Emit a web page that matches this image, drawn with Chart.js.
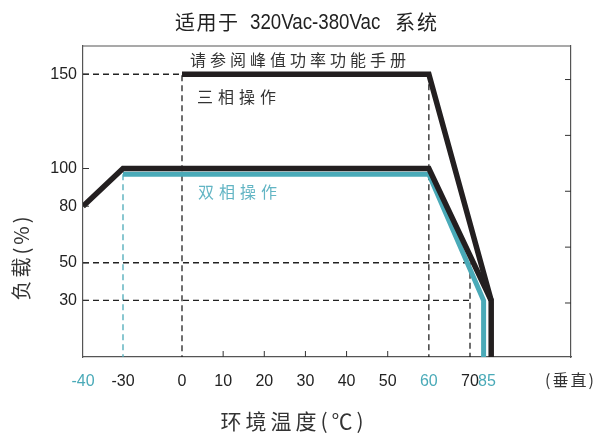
<!DOCTYPE html>
<html>
<head>
<meta charset="utf-8">
<script src="https://cdn.jsdelivr.net/npm/chart.js@4.4.1/dist/chart.umd.min.js"></script>
<style>
  html, body { margin: 0; padding: 0; background: #fff; }
  #wrap { width: 598px; height: 436px; }
</style>
</head>
<body>
<div id="wrap"><canvas id="derating"></canvas></div>
<script>
/* ── Data ────────────────────────────────────────────────────────────── */
const tempTicks = [-40, -30, 0, 10, 20, 30, 40, 50, 60, 70, 85];
const loadTicks = [30, 50, 80, 100, 150];
const rightTicks = [30, 60, 90, 120, 150];
const tealTicks = [-40, 60, 85];
const innerXTicks = [10, 20, 30, 40, 50];

// three-phase operation (black)
const threePhaseT    = [-40, -30, 60, 86, 86];
const threePhaseLoad = [80, 100, 100, 30, 0];
// peak power line (black)
const peakT    = [0, 60, 86];
const peakLoad = [150, 150, 30];
// two-phase operation (teal)
const twoPhaseT    = [-30, 60, 82, 82];
const twoPhaseLoad = [97, 97, 30, 0];

// dashed guides, null = break
const guideT    = [-40, 0, 0, null, -40, 70, null, -40, 70, null, 70, 70, null, 60, 60];
const guideLoad = [150, 150, 0, null, 50, 50, null, 30, 30, null, 50, 0, null, 150, 0];
const tealGuideT    = [-30, -30];
const tealGuideLoad = [97, 0];

const BLACK = '#231f20';
const TEAL = '#4aaab8';
const TEAL_TXT = '#62b5c4';
const CJK = '"Noto Sans CJK SC"';
const NUM = '"Liberation Sans", Arial, sans-serif';

const pts = (xs, ys) => xs.map((x, i) => ({ x: x, y: ys[i] }));

/* ── piecewise x scale: uneven spacing of the temperature axis ───────── */
class PiecewiseScale extends Chart.LinearScale {
  toUnit(v) {
    const b = this.options.breaks;
    if (v <= b[0][0]) return b[0][1];
    for (let i = 1; i < b.length; i++) {
      if (v <= b[i][0]) {
        const f = (v - b[i - 1][0]) / (b[i][0] - b[i - 1][0]);
        return b[i - 1][1] + f * (b[i][1] - b[i - 1][1]);
      }
    }
    return b[b.length - 1][1];
  }
  getPixelForValue(v) {
    const b = this.options.breaks;
    return this.getPixelForDecimal((this.toUnit(v) - b[0][1]) / (b[b.length - 1][1] - b[0][1]));
  }
  getValueForPixel(p) {
    const b = this.options.breaks;
    const u = b[0][1] + this.getDecimalForPixel(p) * (b[b.length - 1][1] - b[0][1]);
    for (let i = 1; i < b.length; i++) {
      if (u <= b[i][1]) {
        const f = (u - b[i - 1][1]) / (b[i][1] - b[i - 1][1]);
        return b[i - 1][0] + f * (b[i][0] - b[i - 1][0]);
      }
    }
    return b[b.length - 1][0];
  }
  buildTicks() {
    return this.options.tickValues.map(v => ({ value: v }));
  }
}
PiecewiseScale.id = 'piecewise';
PiecewiseScale.defaults = Chart.LinearScale.defaults;
Chart.register(PiecewiseScale);

/* ── text + frame + inner tick marks ─────────────────────────────────── */
const decor = {
  id: 'decor',
  afterDraw(chart) {
    const { ctx, chartArea: a, scales } = chart;
    ctx.save();

    // top frame line
    ctx.strokeStyle = '#555';
    ctx.lineWidth = 1.2;
    ctx.beginPath();
    ctx.moveTo(a.left, a.top); ctx.lineTo(a.right, a.top);
    ctx.stroke();

    // inner tick marks
    ctx.strokeStyle = '#333';
    ctx.lineWidth = 1;
    ctx.beginPath();
    loadTicks.forEach(v => { const y = scales.y.getPixelForValue(v); ctx.moveTo(a.left, y); ctx.lineTo(a.left + 6, y); });
    rightTicks.forEach(v => { const y = scales.y2.getPixelForValue(v); ctx.moveTo(a.right, y); ctx.lineTo(a.right - 6, y); });
    innerXTicks.forEach(v => { const x = scales.x.getPixelForValue(v); ctx.moveTo(x, a.bottom); ctx.lineTo(x, a.bottom - 6); });
    ctx.stroke();

    const text = (s, x, y, font, color, spacing, align) => {
      ctx.font = font;
      ctx.fillStyle = color;
      ctx.letterSpacing = spacing || '0px';
      ctx.textAlign = align || 'left';
      ctx.textBaseline = 'middle';
      ctx.fillText(s, x, y);
    };

    // title (the Latin part is a narrow face in the original)
    text('适用于', 175, 22, '20px ' + CJK, '#222', '1.5px');
    ctx.save();
    ctx.translate(250, 0);
    ctx.scale(0.85, 1);
    text('320Vac-380Vac', 0, 23, '22px ' + NUM, '#222', '0px');
    ctx.restore();
    text('系统', 395, 22, '20px ' + CJK, '#222', '2px');

    // annotations
    text('请参阅峰值功率功能手册', 190, 60, '16px ' + CJK, '#333', '4px');
    text('三相操作', 197, 97, '16px ' + CJK, '#333', '5px');
    text('双相操作', 198, 192, '16px ' + CJK, TEAL_TXT, '5px');

    // axis titles
    text('环境温度(℃)', 294, 421, '21px ' + CJK, '#333', '4px', 'center');
    text('(垂直)', 545, 380, '16px ' + CJK, '#333', '2px');
    ctx.translate(21, 257);
    ctx.rotate(-Math.PI / 2);
    text('负载(%)', 0, 0, '20px ' + CJK, '#333', '3px', 'center');

    ctx.restore();
  }
};

const line = (data, color, width, order, dash) => ({
  data: data,
  borderColor: color,
  borderWidth: width,
  borderDash: dash || [],
  borderJoinStyle: 'miter',
  borderCapStyle: 'butt',
  pointRadius: 0,
  fill: false,
  tension: 0,
  spanGaps: false,
  order: order,
});

new Chart(document.getElementById('derating'), {
  type: 'line',
  data: {
    datasets: [
      line(pts(guideT, guideLoad), '#222', 1.3, 4, [6, 4]),
      line(pts(tealGuideT, tealGuideLoad), TEAL, 1.3, 4, [6, 4]),
      line(pts(twoPhaseT, twoPhaseLoad), TEAL, 5, 2),
      line(pts(peakT, peakLoad), BLACK, 5.5, 1),
      line(pts(threePhaseT, threePhaseLoad), BLACK, 5.5, 1),
    ],
  },
  options: {
    responsive: true,
    maintainAspectRatio: false,
    animation: false,
    events: [],
    layout: { padding: { top: 46, left: 0, right: 0, bottom: 0 } },
    plugins: { legend: { display: false }, tooltip: { enabled: false }, title: { display: false } },
    scales: {
      x: {
        type: 'piecewise',
        position: 'bottom',
        min: -40,
        max: 105,
        breaks: [[-40, 0], [-30, 40], [0, 99], [70, 387], [85, 404], [105, 488]],
        tickValues: tempTicks,
        afterFit: s => { s.height = 79; },
        grid: { display: true, drawOnChartArea: false, drawTicks: false },
        border: { display: true, color: '#555', width: 1.2 },
        ticks: {
          padding: 15,
          autoSkip: false,
          maxRotation: 0,
          font: { family: NUM, size: 16 },
          color: c => tealTicks.includes(c.tick.value) ? TEAL : '#222',
          callback: v => String(v),
        },
      },
      y: {
        type: 'linear',
        position: 'left',
        min: 0,
        max: 165,
        afterFit: s => { s.width = 83; },
        afterBuildTicks: s => { s.ticks = loadTicks.map(v => ({ value: v })); },
        grid: { display: true, drawOnChartArea: false, drawTicks: false },
        border: { display: true, color: '#555', width: 1.2 },
        ticks: { padding: 6, font: { family: NUM, size: 16 }, color: '#222' },
      },
      y2: {
        type: 'linear',
        position: 'right',
        min: 1,
        max: 168,
        afterFit: s => { s.width = 27; },
        grid: { display: true, drawOnChartArea: false, drawTicks: false },
        border: { display: true, color: '#555', width: 1.2 },
        ticks: { display: false },
      },
    },
  },
  plugins: [decor],
});
</script>
</body>
</html>
